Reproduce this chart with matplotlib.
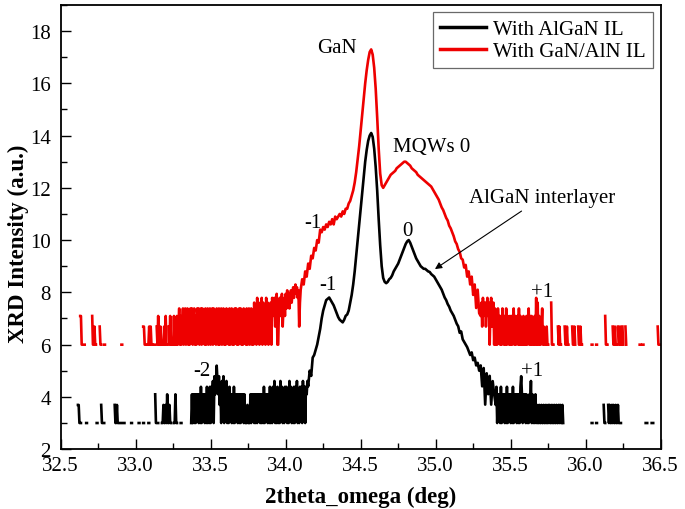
import numpy as np
import matplotlib
matplotlib.use("Agg")
import matplotlib.pyplot as plt
from matplotlib.ticker import MultipleLocator, FormatStrFormatter

plt.rcParams['font.family'] = ['Liberation Serif', 'DejaVu Serif']

# low-count parts: counts in units of 20 cps (0 = no counts -> gap), step 0.005 deg
# one row = 0.1 deg
black_left_start = 32.60
black_left = [0, 0, 0, 2, 2, 1, 1, 1, 0, 0, 0, 0, 0, 0, 1, 1, 0, 0, 0, 0,
              0, 0, 0, 0, 0, 0, 0, 0, 1, 1, 0, 0, 0, 0, 2, 1, 1, 1, 1, 0,
              0, 0, 0, 0, 0, 0, 0, 0, 0, 0, 0, 0, 2, 1, 1, 2, 1, 1, 1, 1,
              1, 1, 1, 1, 1, 1, 0, 0, 0, 0, 0, 0, 0, 0, 1, 1, 0, 0, 0, 0,
              0, 0, 0, 0, 1, 1, 0, 0, 0, 0, 1, 1, 0, 0, 0, 0, 0, 1, 1, 0,
              0, 0, 0, 0, 0, 0, 3, 1, 1, 1, 1, 0, 0, 0, 0, 1, 1, 2, 1, 1,
              2, 1, 3, 1, 1, 2, 1, 1, 0, 0, 0, 1, 1, 3, 1, 1, 0, 0, 0, 0,
              1, 1, 0, 0, 0, 0, 0, 0, 0, 0, 0, 0, 0, 0, 1, 3, 1, 3, 1, 3,
              1, 3, 2, 3, 1, 3, 1, 4, 1, 3, 2, 3, 1, 3, 1, 4, 1, 3, 1, 4,
              1, 4, 3, 5, 1, 6, 3, 4, 9, 5, 3, 6, 2, 4, 1, 5, 3, 6, 1, 4,
              2, 5, 1, 3, 1, 4, 2, 3, 1, 3, 1, 4, 1, 3, 2, 3, 1, 3, 1, 3,
              1, 3, 2, 3, 1, 3, 1, 1, 1, 2, 1, 1, 1, 3, 1, 3, 2, 3, 1, 3,
              1, 3, 1, 3, 2, 3, 1, 3, 1, 3, 1, 4, 1, 3, 2, 3, 1, 3, 1, 4,
              1, 3, 1, 4, 2, 5, 1, 3, 1, 4, 1, 3, 1, 5, 2, 4, 1, 3, 1, 4,
              2, 4, 1, 3, 1, 5, 2, 4, 1, 3, 1, 4, 1, 4, 2, 5, 1, 3, 1, 4,
              2, 4, 1, 5, 2, 4, 1, 4, 3, 5]

black_right_start = 35.40
black_right = [2, 4, 1, 3, 2, 3, 1, 4, 1, 3, 2, 3, 1, 3, 1, 4, 1, 3, 2, 3,
               1, 3, 1, 4, 1, 3, 2, 3, 1, 3, 1, 3, 1, 4, 6, 3, 1, 3, 2, 3,
               1, 3, 1, 2, 1, 3, 2, 5, 1, 3, 1, 2, 1, 3, 1, 2, 1, 1, 2, 1,
               1, 2, 1, 1, 2, 1, 1, 2, 1, 1, 2, 1, 2, 1, 1, 2, 1, 1, 2, 1,
               1, 2, 1, 1, 2, 1, 2, 1, 1, 2, 1, 0, 0, 0, 0, 0, 0, 0, 0, 0,
               0, 0, 0, 0, 0, 0, 0, 0, 0, 0, 0, 0, 0, 0, 0, 0, 0, 0, 0, 0,
               0, 0, 0, 0, 0, 0, 0, 0, 1, 1, 0, 0, 0, 0, 1, 1, 0, 0, 0, 0,
               0, 0, 0, 0, 2, 1, 1, 0, 0, 0, 2, 1, 2, 1, 1, 2, 1, 2, 1, 1,
               2, 1, 1, 2, 1, 1, 1, 1, 0, 0, 0, 0, 0, 0, 0, 0, 0, 0, 0, 0,
               0, 0, 0, 0, 0, 0, 0, 0, 0, 0, 0, 0, 0, 0, 0, 0, 0, 0, 0, 0,
               1, 1, 1, 0, 0, 0, 0, 0, 1, 1, 1, 0, 0, 0, 0, 0, 0, 0, 0, 0,
               0]

red_left_start = 32.60
red_left = [0, 0, 0, 0, 0, 0, 3, 3, 1, 1, 1, 1, 1, 0, 0, 0, 0, 0, 0, 0,
            0, 0, 3, 1, 1, 2, 1, 1, 0, 0, 0, 0, 2, 1, 1, 0, 0, 0, 1, 1,
            0, 0, 0, 0, 0, 0, 0, 0, 0, 0, 0, 0, 0, 0, 0, 0, 0, 0, 0, 0,
            0, 1, 1, 0, 0, 0, 0, 0, 0, 0, 0, 0, 0, 0, 0, 0, 0, 0, 0, 0,
            0, 0, 0, 0, 0, 0, 0, 0, 0, 0, 2, 2, 1, 1, 0, 0, 1, 1, 2, 1,
            2, 1, 1, 0, 0, 1, 1, 0, 2, 1, 3, 1, 1, 2, 1, 0, 1, 1, 2, 1,
            3, 1, 1, 0, 2, 1, 3, 1, 1, 0, 1, 3, 1, 2, 1, 3, 1, 2, 4, 1,
            3, 1, 2, 4, 1, 3, 4, 1, 2, 4, 1, 3, 1, 4, 2, 4, 1, 3, 4, 1,
            3, 1, 4, 2, 4, 1, 3, 4, 1, 4, 2, 3, 1, 4, 1, 3, 4, 1, 2, 4,
            1, 3, 4, 1, 4, 2, 3, 1, 4, 3, 1, 4, 1, 2, 4, 1, 3, 4, 1, 3,
            1, 4, 2, 3, 1, 4, 1, 3, 4, 1, 3, 1, 4, 2, 4, 1, 3, 1, 4, 2,
            4, 1, 3, 1, 4, 2, 3, 1, 4, 1, 3, 4, 1, 2, 4, 1, 3, 1, 5, 2,
            4, 1, 6, 2, 5, 1, 4, 3, 6, 1, 5, 2, 4, 1, 6, 3, 5, 1, 4, 2,
            5, 1, 6, 3, 4, 6, 2, 5, 7, 1, 1, 4, 6, 3, 5, 7, 2, 4, 6, 3,
            7, 4, 8, 5, 7, 4, 6, 8, 5, 7, 9, 6, 8, 10, 7, 9, 6, 8, 2, 5]

red_right_start = 35.30
red_right = [3, 5, 2, 6, 3, 4, 5, 2, 4, 6, 3, 5, 1, 4, 6, 2, 3, 5, 1, 4,
             1, 3, 1, 4, 2, 3, 1, 3, 1, 4, 2, 1, 3, 1, 4, 1, 3, 2, 1, 3,
             1, 3, 1, 2, 4, 1, 3, 1, 2, 3, 1, 4, 1, 3, 1, 2, 1, 3, 1, 2,
             1, 3, 1, 2, 4, 1, 3, 1, 3, 1, 2, 1, 3, 1, 6, 1, 5, 1, 3, 1,
             1, 2, 4, 1, 2, 1, 1, 1, 2, 1, 1, 0, 0, 0, 5, 1, 1, 1, 0, 0,
             0, 0, 0, 2, 1, 2, 1, 1, 0, 0, 0, 0, 2, 1, 1, 2, 1, 1, 0, 0,
             0, 0, 2, 1, 1, 2, 1, 0, 0, 0, 2, 1, 1, 2, 1, 1, 0, 0, 0, 0,
             0, 0, 0, 0, 0, 0, 0, 0, 1, 1, 0, 0, 0, 0, 1, 1, 0, 0, 0, 0,
             0, 0, 0, 0, 0, 0, 3, 1, 1, 1, 0, 0, 0, 0, 0, 0, 2, 1, 1, 2,
             1, 1, 0, 2, 1, 1, 2, 1, 0, 2, 1, 0, 0, 2, 1, 0, 0, 0, 0, 0,
             0, 0, 0, 0, 0, 0, 0, 0, 0, 0, 0, 0, 1, 1, 0, 0, 1, 1, 0, 0,
             0, 0, 0, 0, 0, 0, 0, 0, 0, 0, 0, 0, 0, 0, 0, 0, 2, 1, 1, 1,
             1]

# log intensity around the peaks, step 0.01 deg
black_mid_start = 34.15
black_mid = [4.4, 5.0, 4.8, 5.5, 5.6, 5.8, 6.0, 6.3, 6.6, 7.0,
             7.3, 7.5, 7.7, 7.75, 7.8, 7.7, 7.6, 7.5, 7.35, 7.2,
             7.05, 6.95, 6.9, 6.85, 6.95, 7.1, 7.15, 7.3, 7.6, 7.9,
             8.3, 8.8, 9.4, 10.0, 10.6, 11.2, 11.8, 12.4, 13.0, 13.45,
             13.8, 14.0, 14.1, 13.95, 13.5, 12.8, 11.9, 10.8, 9.8, 9.0,
             8.55, 8.4, 8.35, 8.4, 8.5, 8.55, 8.65, 8.8, 8.9, 9.0,
             9.1, 9.25, 9.4, 9.55, 9.7, 9.85, 9.95, 10.0, 9.9, 9.75,
             9.6, 9.45, 9.3, 9.2, 9.1, 9.0, 8.95, 8.9, 8.9, 8.85,
             8.8, 8.78, 8.7, 8.65, 8.6, 8.5, 8.4, 8.3, 8.2, 8.1,
             7.95, 7.8, 7.7, 7.55, 7.45, 7.3, 7.2, 7.1, 6.95, 6.8,
             6.7, 6.45, 6.5, 6.2, 6.1, 6.0, 5.9, 5.75, 5.6, 5.7,
             5.4, 5.5, 5.2, 5.3, 5.0, 5.2, 4.4, 5.1, 3.7, 4.9,
             4.1, 4.8, 3.7, 4.6, 4.1]

red_mid_start = 34.10
red_mid = [8.1, 8.5, 8.3, 8.8, 8.6, 9.1, 8.9, 9.4, 9.3, 9.7,
           9.6, 10.0, 9.9, 10.4, 10.3, 10.5, 10.4, 10.6, 10.5, 10.7,
           10.6, 10.8, 10.6, 10.9, 10.8, 10.9, 11.0, 10.9, 11.1, 11.0,
           11.2, 11.2, 11.4, 11.5, 11.7, 11.9, 12.2, 12.6, 13.1, 13.6,
           14.2, 14.8, 15.4, 16.0, 16.5, 16.9, 17.2, 17.3, 17.1, 16.6,
           15.8, 14.7, 13.5, 12.55, 12.1, 12.0, 12.1, 12.2, 12.3, 12.4,
           12.5, 12.55, 12.6, 12.65, 12.75, 12.8, 12.85, 12.9, 12.95, 13.0,
           13.0, 12.95, 12.9, 12.85, 12.75, 12.7, 12.65, 12.6, 12.5, 12.45,
           12.4, 12.35, 12.3, 12.25, 12.2, 12.15, 12.1, 12.05, 11.95, 11.85,
           11.75, 11.65, 11.55, 11.4, 11.25, 11.15, 11.0, 10.85, 10.75, 10.55,
           10.45, 10.3, 10.15, 9.95, 9.85, 9.65, 9.55, 9.3, 9.25, 8.95,
           9.05, 8.6, 8.8, 8.3, 8.6, 7.9, 8.3, 7.4, 8.1, 7.2]

red_offset = 3.0


def grid(start, vals, step):
    return start + step * np.arange(len(vals))


def log_counts(vals):
    c = np.array(vals, dtype=float) * 20
    out = np.full(len(c), np.nan)
    out[c > 0] = np.log(c[c > 0])
    return out


bx = np.concatenate([grid(black_left_start, black_left, 0.005),
                     grid(black_mid_start, black_mid, 0.01),
                     grid(black_right_start, black_right, 0.005)])
by = np.concatenate([log_counts(black_left), black_mid, log_counts(black_right)])

rx = np.concatenate([grid(red_left_start, red_left, 0.005),
                     grid(red_mid_start, red_mid, 0.01),
                     grid(red_right_start, red_right, 0.005)])
ry = np.concatenate([log_counts(red_left) + red_offset, red_mid,
                     log_counts(red_right) + red_offset])

fig = plt.figure(figsize=(6.85, 5.10), dpi=100)
ax = fig.add_axes([0.0886, 0.1176, 0.8759, 0.8706])

ax.plot(bx, by, color='black', lw=1.9, label='With AlGaN IL')
ax.plot(rx, ry, color='#ee0000', lw=1.9, label='With GaN/AlN IL')

ax.set_xlim(32.5, 36.5)
ax.set_ylim(2, 19)
ax.xaxis.set_major_locator(MultipleLocator(0.5))
ax.xaxis.set_minor_locator(MultipleLocator(0.25))
ax.yaxis.set_major_locator(MultipleLocator(2))
ax.yaxis.set_minor_locator(MultipleLocator(1))
ax.xaxis.set_major_formatter(FormatStrFormatter('%.1f'))
ax.tick_params(which='both', direction='in', top=False, right=False,
               labelsize=15, width=1)
ax.tick_params(which='major', length=7)
ax.tick_params(which='minor', length=4)
ax.tick_params(axis='x', pad=5)
ax.tick_params(axis='y', pad=7)
for s in ax.spines.values():
    s.set_linewidth(1.3)

ax.set_xlabel('2theta_omega (deg)', fontsize=16.5, fontweight='bold', labelpad=8)
ax.set_ylabel('XRD Intensity (a.u.)', fontsize=16.5, fontweight='bold')
ax.yaxis.set_label_coords(-0.053, 0.464)

ts = 15
ax.text(34.34, 17.36, 'GaN', fontsize=ts, ha='center', va='center')
ax.text(34.975, 13.6, 'MQWs 0', fontsize=ts, ha='center', va='center')
ax.text(34.18, 10.68, '-1', fontsize=ts, ha='center', va='center')
ax.text(34.28, 8.31, '-1', fontsize=ts, ha='center', va='center')
ax.text(34.81, 10.38, '0', fontsize=ts, ha='center', va='center')
ax.text(33.44, 5.02, '-2', fontsize=ts, ha='center', va='center')
ax.text(35.71, 8.03, '+1', fontsize=ts, ha='center', va='center')
ax.text(35.64, 5.0, '+1', fontsize=ts, ha='center', va='center')
ax.annotate('AlGaN interlayer', xy=(34.995, 8.89), xytext=(35.71, 11.64),
            fontsize=ts, ha='center', va='center',
            arrowprops=dict(arrowstyle='-|>', color='black', lw=0.8,
                            mutation_scale=10, shrinkA=2, shrinkB=0))

leg = ax.legend(loc='upper right', fontsize=15, frameon=True, fancybox=False,
                handlelength=2.2, handletextpad=0.35, labelspacing=0.1,
                borderpad=0.35, borderaxespad=0.35)
leg.get_frame().set_edgecolor('#444444')
leg.get_frame().set_linewidth(0.9)
for h in leg.get_lines():
    h.set_linewidth(2.5)

fig.savefig('out.png', dpi=100)
